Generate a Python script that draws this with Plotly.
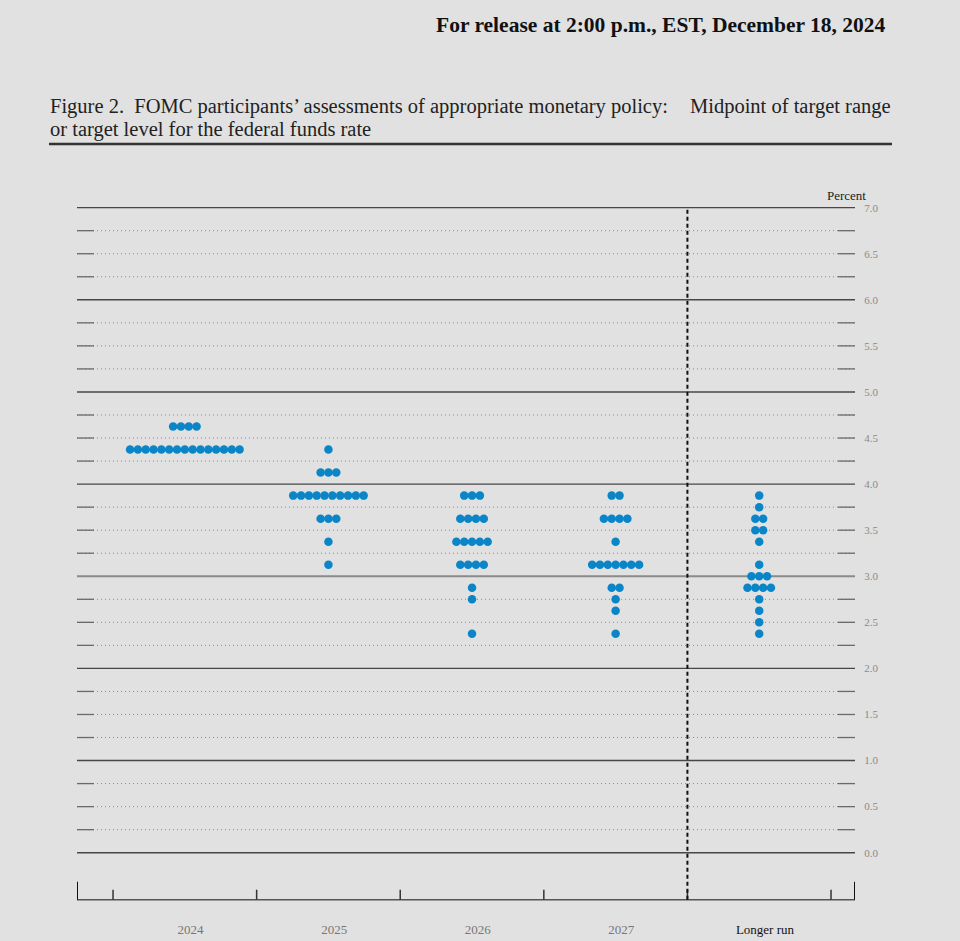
import numpy as np
import plotly.graph_objects as go

# ---------------- data ----------------
columns = ["2024", "2025", "2026", "2027", "Longer run"]

rates_2024 = [4.625, 4.375]
counts_2024 = [4, 15]

rates_2025 = [4.375, 4.125, 3.875, 3.625, 3.375, 3.125]
counts_2025 = [1, 3, 10, 3, 1, 1]

rates_2026 = [3.875, 3.625, 3.375, 3.125, 2.875, 2.75, 2.375]
counts_2026 = [3, 4, 5, 4, 1, 1, 1]

rates_2027 = [3.875, 3.625, 3.375, 3.125, 2.875, 2.75, 2.625, 2.375]
counts_2027 = [2, 4, 1, 7, 2, 1, 1, 1]

rates_lr = [3.875, 3.75, 3.625, 3.5, 3.375, 3.125, 3.0, 2.875, 2.75, 2.625, 2.5, 2.375]
counts_lr = [1, 1, 2, 2, 1, 1, 3, 4, 1, 1, 1, 1]

y_tick_vals = [0.0, 0.5, 1.0, 1.5, 2.0, 2.5, 3.0, 3.5, 4.0, 4.5, 5.0, 5.5, 6.0, 6.5, 7.0]
y_tick_text = ["0.0", "0.5", "1.0", "1.5", "2.0", "2.5", "3.0", "3.5", "4.0", "4.5",
               "5.0", "5.5", "6.0", "6.5", "7.0"]

all_rates = [rates_2024, rates_2025, rates_2026, rates_2027, rates_lr]
all_counts = [counts_2024, counts_2025, counts_2026, counts_2027, counts_lr]

# ---------------- geometry ----------------
X0, X1 = -0.751, 4.667
Y0, Y1 = -0.6, 7.3
DOT_STEP = 0.0545
BLUE = "#0a85c7"
BG = "#e1e1e1"
OFF = 8  # page body margin

xs, ys = [], []
for ci, (rates, counts) in enumerate(zip(all_rates, all_counts)):
    for r, n in zip(rates, counts):
        for j in range(n):
            xs.append(ci + (j - (n - 1) / 2) * DOT_STEP)
            ys.append(r)

fig = go.Figure()
fig.add_trace(go.Scatter(
    x=xs, y=ys, mode="markers",
    marker=dict(size=8.5, color=BLUE, line=dict(width=0)),
    hoverinfo="skip", showlegend=False,
))

shapes = []
levels = np.arange(0, 7.0001, 0.25)
end_w = 17 / 143.6
for lv in levels:
    lv = round(float(lv), 2)
    if abs(lv - 3.0) < 1e-9:
        shapes.append(dict(type="line", xref="x", yref="y", x0=X0, x1=X1, y0=lv, y1=lv,
                           line=dict(color="#8a8a8a", width=2), layer="below"))
    elif abs(lv - round(lv)) < 1e-9:
        shapes.append(dict(type="line", xref="x", yref="y", x0=X0, x1=X1, y0=lv, y1=lv,
                           line=dict(color="#474747", width=1.4), layer="below"))
    else:
        shapes.append(dict(type="line", xref="x", yref="y", x0=X0, x1=X1, y0=lv, y1=lv,
                           line=dict(color="#888888", width=1, dash="1px,3px"), layer="below"))
        for a, b in [(X0, X0 + end_w), (X1 - end_w, X1)]:
            shapes.append(dict(type="line", xref="x", yref="y", x0=a, x1=b, y0=lv, y1=lv,
                               line=dict(color="#6a6a6a", width=1.3), layer="below"))

# bottom axis
AX_Y = -0.51
shapes.append(dict(type="line", xref="x", yref="y", x0=X0, x1=X1, y0=AX_Y, y1=AX_Y,
                   line=dict(color="#555555", width=1.5)))
small_tick = 10 / 92.14
tall_tick = 18 / 92.14
for b in [-0.5, 0.5, 1.5, 2.5, 3.5, 4.5]:
    shapes.append(dict(type="line", xref="x", yref="y", x0=b, x1=b, y0=AX_Y, y1=AX_Y + small_tick,
                       line=dict(color="#333333", width=1.5)))
for b in [X0, X1]:
    shapes.append(dict(type="line", xref="x", yref="y", x0=b, x1=b, y0=AX_Y, y1=AX_Y + tall_tick,
                       line=dict(color="#111111", width=2)))
# dashed separator
shapes.append(dict(type="line", xref="x", yref="y", x0=3.5, x1=3.5, y0=AX_Y, y1=7.0,
                   line=dict(color="#111111", width=2, dash="4px,3px")))

# screen-pixel helpers relative to plot area (plot area spans x 77..855, y 180..908 on screen)
W_PLOT = 778.0
H_PLOT = 728.0
def px(xp):
    return (xp - 77) / W_PLOT
def py(yp):
    return (908 - yp) / H_PLOT

shapes.append(dict(type="line", xref="paper", yref="paper", x0=px(49), x1=px(892),
                   y0=py(144), y1=py(144), line=dict(color="#333333", width=2.5)))

SERIF = "Liberation Serif, DejaVu Serif, serif"
TSIZE = 20.5
TCOL = "#222222"
def title_piece(text, x, y, anchor, size=TSIZE):
    return dict(text=text, xref="paper", yref="paper", x=px(x), y=py(y), xanchor=anchor,
                yanchor="middle", showarrow=False, font=dict(family=SERIF, size=size, color=TCOL))

annotations = [
    dict(text="<b>For release at 2:00 p.m., EST, December 18, 2024</b>", xref="paper", yref="paper",
         x=px(887), y=py(25), xanchor="right", yanchor="middle", showarrow=False,
         font=dict(family=SERIF, size=21.5, color="#111111")),
    title_piece("Figure 2.&nbsp;&nbsp;FOMC participants’ assessments of appropriate monetary policy:", 48, 107, "left"),
    title_piece("Midpoint of target range", 893, 107, "right"),
    title_piece("or target level for the federal funds rate", 48, 129, "left"),
    dict(text="Percent", xref="paper", yref="paper", x=px(846), y=py(195), xanchor="center",
         yanchor="middle", showarrow=False, font=dict(family=SERIF, size=13, color="#222222")),
]

x_tick_vals = [i + 0.04 for i in range(len(columns))]
x_tick_text = [c if c != "Longer run" else "<span style='color:#111111'>Longer run</span>" for c in columns]

fig.update_layout(
    width=960 - OFF, height=941 - OFF,
    margin=dict(l=77 - OFF, r=105, t=180 - OFF, b=33, pad=0),
    paper_bgcolor=BG, plot_bgcolor=BG,
    showlegend=False,
    shapes=shapes,
    annotations=annotations,
    xaxis=dict(range=[X0, X1], showgrid=False, zeroline=False, showline=False,
               tickvals=x_tick_vals, ticktext=x_tick_text, ticks="outside", ticklen=9,
               tickcolor="rgba(0,0,0,0)", tickfont=dict(family=SERIF, size=13, color="#777777"),
               automargin=False, fixedrange=True),
    yaxis=dict(range=[Y0, Y1], side="right", showgrid=False, zeroline=False, showline=False,
               tickvals=y_tick_vals, ticktext=y_tick_text, ticks="outside", ticklen=6,
               tickcolor="rgba(0,0,0,0)", tickfont=dict(family=SERIF, size=11, color="#8a8a8a"),
               automargin=False, fixedrange=True),
)

fig.write_html("out.html", config={"displayModeBar": False},
               post_script="document.body.style.background='%s';" % BG)
